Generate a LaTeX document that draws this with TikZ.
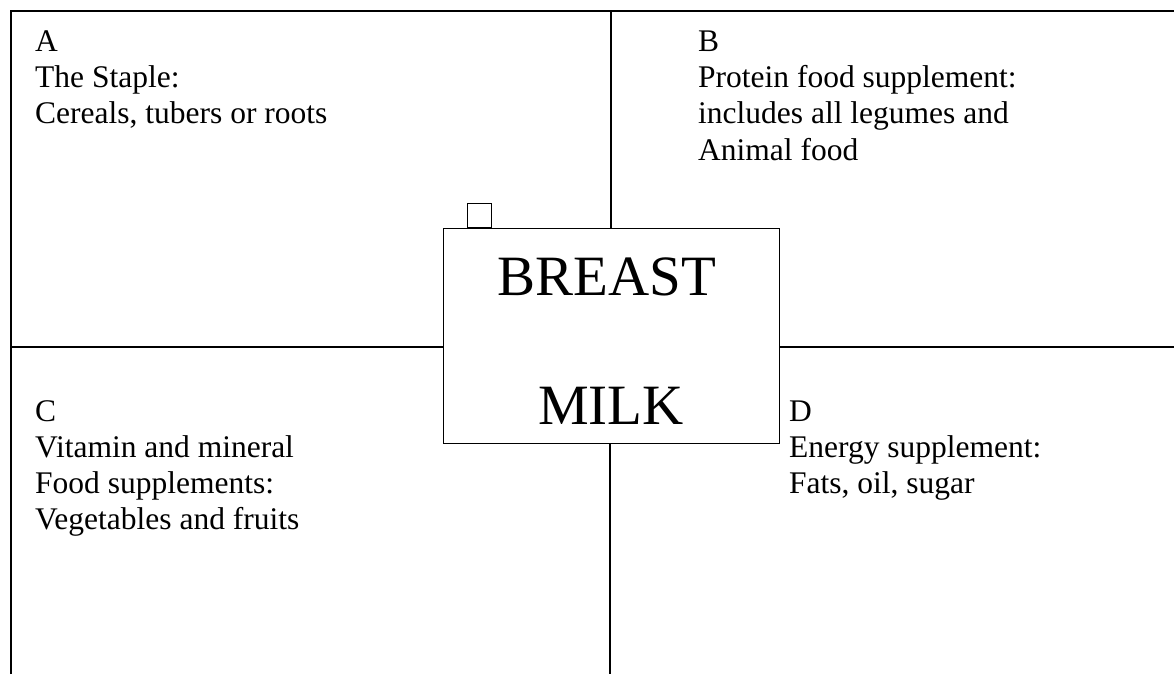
\documentclass[tikz,border=0pt]{standalone}
\usepackage{fontspec}
\setmainfont{Liberation Serif}
\tikzset{
  frameline/.style={line width=1.3pt, black},
  txt/.style={anchor=base west, inner sep=0pt, font=\fontsize{31.5}{36}\selectfont},
  bigtxt/.style={anchor=base, inner sep=0pt, font=\fontsize{57}{60}\selectfont},
}
\begin{document}
\begin{tikzpicture}[x=1pt,y=-1pt]
\useasboundingbox (0,0) rectangle (1174,674);
% frame corners
\coordinate (bl) at (11,674);
\coordinate (tl) at (11,11);
\coordinate (tr) at (1174,11);
\coordinate (tv) at (611,11);
\coordinate (bv) at (610,674);
\coordinate (lh) at (11,347);
\coordinate (rh) at (1174,347);
% central box
\node[draw, frameline, minimum width=336pt, minimum height=215pt, anchor=north west, inner sep=0pt] (milk) at (443,228) {};
\node[draw, frameline, minimum width=24pt, minimum height=24pt, anchor=south west, inner sep=0pt] (tab) at (467,228) {};
% frame and dividers
\draw[frameline] (bl) -- (tl) -- (tr);
\draw[frameline] (tv) -- (tv |- milk.north);
\draw[frameline] (milk.south -| bv) -- (bv);
\draw[frameline] (lh) -- (lh -| milk.west);
\draw[frameline] (milk.east |- rh) -- (rh);
% big text
\node[bigtxt] (breast) at (607,295) {BREAST};
\node[bigtxt] (milktxt) at (611,424) {MILK};
% quadrant A
\node[txt] (a1) at (35,52) {A};
\node[txt] (a2) at (35,88) {The Staple:};
\node[txt] (a3) at (35,124) {Cereals, tubers or roots};
% quadrant B
\node[txt] (b1) at (698,52) {B};
\node[txt] (b2) at (698,88) {Protein food supplement:};
\node[txt] (b3) at (698,124) {includes all legumes and};
\node[txt] (b4) at (698,160) {Animal food};
% quadrant C
\node[txt] (c1) at (35,421) {C};
\node[txt] (c2) at (35,457) {Vitamin and mineral};
\node[txt] (c3) at (35,493) {Food supplements:};
\node[txt] (c4) at (35,529) {Vegetables and fruits};
% quadrant D
\node[txt] (d1) at (789,421) {D};
\node[txt] (d2) at (789,457) {Energy supplement:};
\node[txt] (d3) at (789,493) {Fats, oil, sugar};
\end{tikzpicture}
\end{document}
